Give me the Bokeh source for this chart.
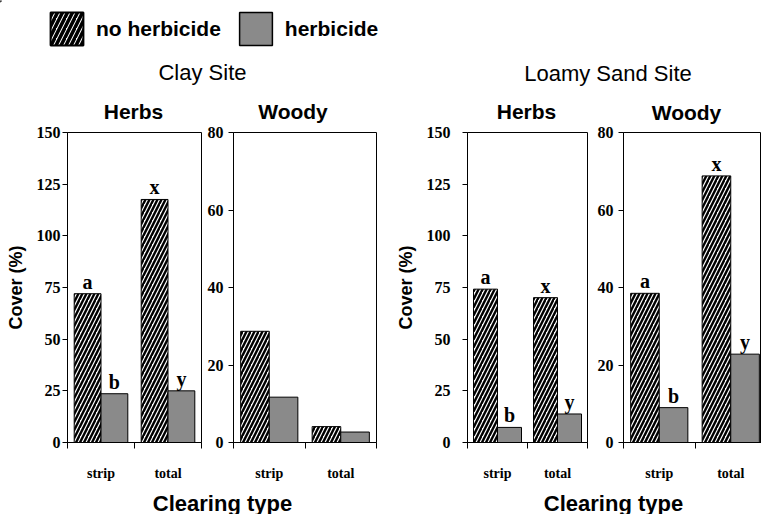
from bokeh.plotting import figure
from bokeh.models import Range1d, FixedTicker, Legend, LegendItem
from bokeh.layouts import column, row
from bokeh.core.properties import value
from bokeh.embed import file_html
from bokeh.resources import INLINE

# ---------------- data ----------------
categories = ["strip", "total"]
series_names = ["no herbicide", "herbicide"]

clay_herbs_no_herbicide = [72.0, 117.6]
clay_herbs_herbicide = [23.6, 25.0]
clay_woody_no_herbicide = [28.7, 4.1]
clay_woody_herbicide = [11.7, 2.7]
loamy_herbs_no_herbicide = [74.2, 70.1]
loamy_herbs_herbicide = [7.3, 13.8]
loamy_woody_no_herbicide = [38.5, 68.8]
loamy_woody_herbicide = [9.0, 22.8]

letters_no_herbicide = ["a", "x"]
letters_herbicide = ["b", "y"]

herbs_ticks = [0, 25, 50, 75, 100, 125, 150]
woody_ticks = [0, 20, 40, 60, 80]

site_titles = ["Clay Site", "Loamy Sand Site"]
panel_titles = ["Herbs", "Woody", "Herbs", "Woody"]
x_title = "Clearing type"
y_title = "Cover (%)"

# ---------------- style ----------------
SANS = "Liberation Sans"
SERIF = "Liberation Serif"
GRAY = "#8a8a8a"
TOTAL_W = 761
HEAD_H = 124
ROW_H = 366
FOOT_H = 24
TOP = 8
FRAME_H = 310


def make_panel(width, left, right, ymax, yticks, tick_standoff,
               no_vals, herb_vals, letters, xmax, ylabel=None):
    bottom = ROW_H - TOP - FRAME_H
    p = figure(width=width, height=ROW_H, x_range=Range1d(0, xmax),
               y_range=Range1d(0, ymax), output_backend="svg",
               toolbar_location=None, title=None,
               min_border_left=left, min_border_right=right,
               min_border_top=TOP, min_border_bottom=bottom)
    p.grid.visible = False
    p.outline_line_color = "black"
    p.outline_line_width = 1
    p.background_fill_color = "white"
    p.border_fill_color = "white"

    centers = [i + 0.5 for i in range(len(categories))]
    x_no = [c - 0.2 for c in centers]
    x_herb = [c + 0.2 for c in centers]

    p.vbar(x=x_no, top=no_vals, bottom=0, width=0.4, fill_color="white",
           line_color="black", line_width=1, hatch_pattern="/",
           hatch_color="black", hatch_weight=2.4, hatch_scale=8)
    p.vbar(x=x_herb, top=herb_vals, bottom=0, width=0.4, fill_color=GRAY,
           line_color="black", line_width=1)

    if letters:
        for xs, ys, txt in ((x_no, no_vals, letters[0]),
                            (x_herb, herb_vals, letters[1])):
            p.text(x=xs, y=ys, text=txt, text_align="center",
                   text_baseline="bottom", y_offset=-1,
                   text_font=value(SERIF), text_font_style="bold",
                   text_font_size="20px", text_color="black")

    # x axis: category boundaries as minor ticks, labels at centres
    xa = p.xaxis[0]
    xa.ticker = FixedTicker(ticks=centers,
                            minor_ticks=list(range(len(categories) + 1)))
    xa.major_label_overrides = {c: cat for c, cat in zip(centers, categories)}
    xa.major_tick_out = 0
    xa.major_tick_in = 0
    xa.minor_tick_out = 6
    xa.minor_tick_in = 0
    xa.major_label_standoff = 17
    xa.major_label_text_font = SERIF
    xa.major_label_text_font_style = "bold"
    xa.major_label_text_font_size = "14px"
    xa.major_label_text_color = "black"
    xa.axis_line_color = "black"
    xa.minor_tick_line_color = "black"

    ya = p.yaxis[0]
    ya.ticker = FixedTicker(ticks=yticks, minor_ticks=[])
    ya.major_tick_out = 5
    ya.major_tick_in = 0
    ya.major_label_standoff = tick_standoff
    ya.major_label_text_font = SERIF
    ya.major_label_text_font_style = "bold"
    ya.major_label_text_font_size = "16px"
    ya.major_label_text_color = "black"
    ya.axis_line_color = "black"
    ya.major_tick_line_color = "black"
    if ylabel:
        ya.axis_label = ylabel
        ya.axis_label_text_font = SANS
        ya.axis_label_text_font_style = "bold"
        ya.axis_label_text_font_size = "18px"
        ya.axis_label_text_color = "black"
        ya.axis_label_standoff = 8
    return p


letters = (letters_no_herbicide, letters_herbicide)

p1 = make_panel(203, 67, 2, 150, herbs_ticks, 2,
                clay_herbs_no_herbicide, clay_herbs_herbicide, letters, 2, y_title)
p2 = make_panel(175, 30, 2, 80, woody_ticks, 5,
                clay_woody_no_herbicide, clay_woody_herbicide, None, 2)
p3 = make_panel(211, 89, 2, 150, herbs_ticks, 12,
                loamy_herbs_no_herbicide, loamy_herbs_herbicide, letters, 2, y_title)
p4 = make_panel(172, 34, 0, 80, woody_ticks, 5,
                loamy_woody_no_herbicide, loamy_woody_herbicide, letters, 1.93)

# ---------------- header (legend + titles) ----------------
head = figure(width=TOTAL_W, height=HEAD_H, x_range=Range1d(0, TOTAL_W),
              y_range=Range1d(HEAD_H, 0), output_backend="svg",
              toolbar_location=None, title=None,
              x_axis_location=None, y_axis_location=None,
              min_border=0)
head.min_border_left = head.min_border_right = 0
head.min_border_top = head.min_border_bottom = 0
head.grid.visible = False
head.outline_line_color = None

# legend-only renderers (placed outside the visible range)
r_no = head.vbar(x=[-1000], top=[1], bottom=[0], width=1, fill_color="white",
                 line_color="black", line_width=2, hatch_pattern="/",
                 hatch_color="black", hatch_weight=3.5, hatch_scale=10)
r_herb = head.vbar(x=[-1000], top=[1], bottom=[0], width=1, fill_color=GRAY,
                   line_color="black", line_width=1.5)
legend = Legend(items=[LegendItem(label=series_names[0], renderers=[r_no]),
                       LegendItem(label=series_names[1], renderers=[r_herb])],
                orientation="horizontal", location=(46, HEAD_H - 8 - 41),
                glyph_width=41, glyph_height=41, label_height=41,
                label_standoff=9, spacing=14, padding=0, margin=0,
                border_line_color=None, background_fill_alpha=0,
                label_text_font=SANS, label_text_font_style="bold",
                label_text_font_size="21px", label_text_color="black")
head.add_layout(legend, "center")

head.text(x=[202, 607.5], y=[71.5, 73], text=site_titles, text_align="center",
          text_baseline="middle", text_font=value(SANS),
          text_font_size="22px", text_color="black")
head.text(x=[133, 292.5, 526, 686], y=[110.5, 110.5, 110.5, 112],
          text=panel_titles, text_align="center", text_baseline="middle",
          text_font=value(SANS), text_font_style="bold",
          text_font_size="21px", text_color="black")

# ---------------- footer ----------------
foot = figure(width=TOTAL_W, height=FOOT_H, x_range=Range1d(0, TOTAL_W),
              y_range=Range1d(FOOT_H, 0), output_backend="svg",
              toolbar_location=None, title=None,
              x_axis_location=None, y_axis_location=None, min_border=0)
foot.min_border_left = foot.min_border_right = 0
foot.min_border_top = foot.min_border_bottom = 0
foot.grid.visible = False
foot.outline_line_color = None
foot.text(x=[222, 613], y=[12.5, 12.5], text=[x_title, x_title],
          text_align="center", text_baseline="middle",
          text_font=value(SANS), text_font_style="bold",
          text_font_size="22px", text_color="black")

layout = column(head, row(p1, p2, p3, p4, spacing=0), foot, spacing=0)

open("out.html", "w").write(file_html(layout, INLINE))
